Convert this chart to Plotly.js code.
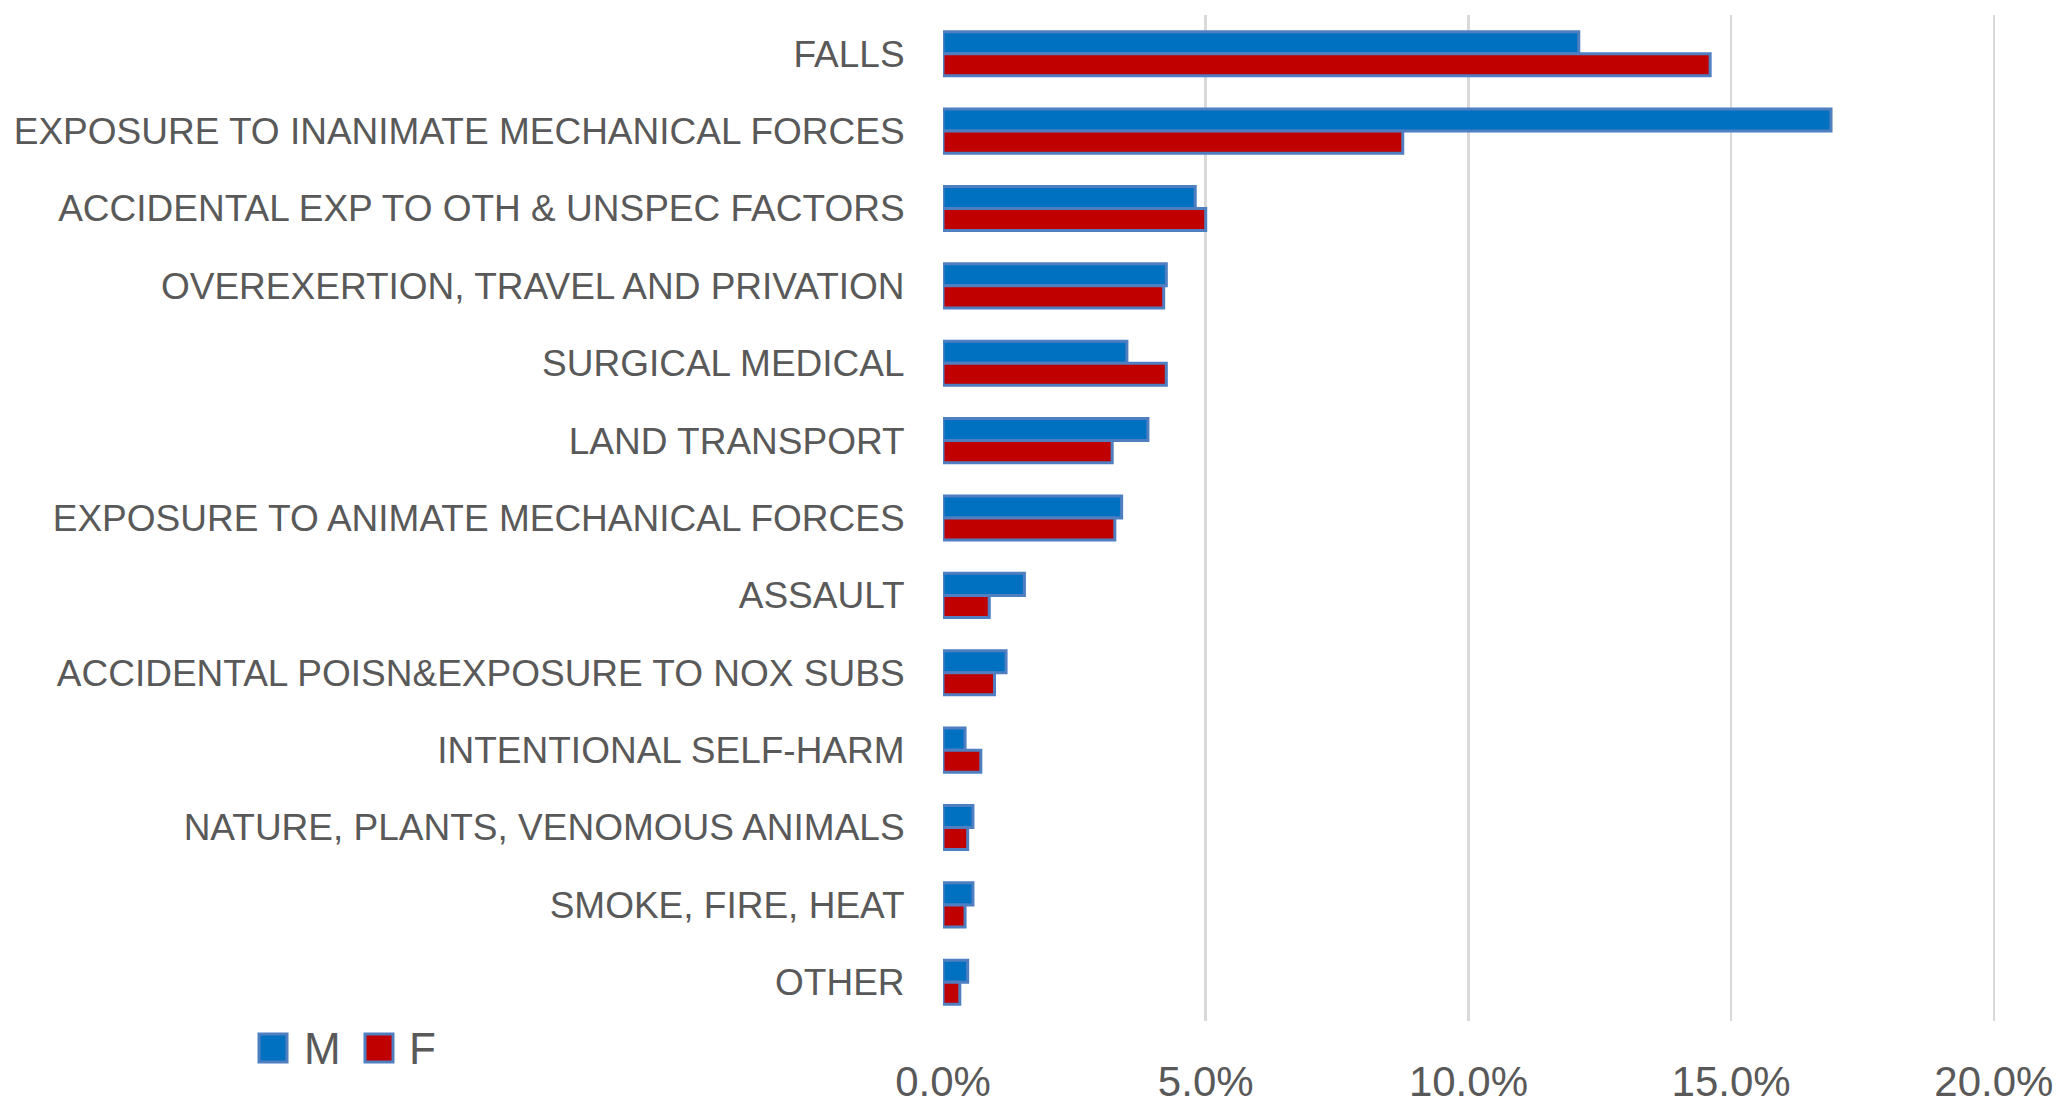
<!DOCTYPE html>
<html>
<head>
<meta charset="utf-8">
<script src="https://cdn.plot.ly/plotly-3.0.1.min.js"></script>
<style>html,body{margin:0;padding:0;background:#fff;}#chart{width:2061px;height:1106px;}</style>
</head>
<body>
<div id="chart"></div>
<script>
var categories = ["FALLS","EXPOSURE TO INANIMATE MECHANICAL FORCES","ACCIDENTAL EXP TO OTH & UNSPEC FACTORS","OVEREXERTION, TRAVEL AND PRIVATION","SURGICAL MEDICAL","LAND TRANSPORT","EXPOSURE TO ANIMATE MECHANICAL FORCES","ASSAULT","ACCIDENTAL POISN&EXPOSURE TO NOX SUBS","INTENTIONAL SELF-HARM","NATURE, PLANTS, VENOMOUS ANIMALS","SMOKE, FIRE, HEAT","OTHER"];
var maleValues = [0.121,0.169,0.048,0.0425,0.035,0.039,0.034,0.0155,0.012,0.0042,0.0057,0.0057,0.0047];
var femaleValues = [0.146,0.0875,0.050,0.042,0.0425,0.0322,0.0327,0.0088,0.0098,0.0072,0.0047,0.0042,0.0032];
var xTicks = [0,0.05,0.10,0.15,0.20];
var seriesNames = ["M","F"];
var seriesColors = ["#0070C0","#C00000"];

var FONT = "'Liberation Sans', Arial, sans-serif";
var TXT = "#595959";
var BORDER = "#4F7FC1";

var W = 2061, H = 1106;
var M = {l:943, r:65, t:15, b:85};
var PW = W - M.l - M.r, PH = H - M.t - M.b;
function px2x(p){ return (p - M.l) / PW; }
function px2y(p){ return (H - M.b - p) / PH; }

var traces = [
  {type:"bar", orientation:"h", name:seriesNames[0], y:categories, x:maleValues,
   marker:{color:seriesColors[0], line:{color:BORDER, width:3}}},
  {type:"bar", orientation:"h", name:seriesNames[1], y:categories, x:femaleValues,
   marker:{color:seriesColors[1], line:{color:BORDER, width:3}}}
];

// custom legend (large square swatches like the reference)
var shapes = [], annotations = [];
var legendSwatchX = [259, 365], legendTextX = [302, 407], legendY = 1048, sw = 28;
for (var i = 0; i < seriesNames.length; i++) {
  shapes.push({type:"rect", xref:"paper", yref:"paper",
    x0:px2x(legendSwatchX[i]), x1:px2x(legendSwatchX[i] + sw),
    y0:px2y(legendY + sw/2), y1:px2y(legendY - sw/2),
    fillcolor:seriesColors[i], line:{color:BORDER, width:3}});
  annotations.push({xref:"paper", yref:"paper", x:px2x(legendTextX[i]), y:px2y(legendY),
    xanchor:"left", yanchor:"middle", text:seriesNames[i], showarrow:false,
    font:{family:FONT, size:44, color:TXT}});
}

var layout = {
  width:W, height:H,
  margin:{l:M.l, r:M.r, t:M.t, b:M.b, pad:0},
  paper_bgcolor:"#fff", plot_bgcolor:"#fff",
  barmode:"group", bargap:0.43, bargroupgap:0,
  font:{family:FONT, color:TXT, size:37},
  showlegend:false,
  shapes:shapes, annotations:annotations,
  xaxis:{range:[0,0.2004], tickvals:xTicks, tickformat:".1%", showgrid:true, gridcolor:"#D9D9D9", gridwidth:2.5,
    zeroline:false, showline:false, ticks:"outside", ticklen:24, tickcolor:"rgba(0,0,0,0)",
    tickfont:{family:FONT, size:42, color:TXT}, fixedrange:true},
  yaxis:{type:"category", autorange:"reversed", showgrid:false, zeroline:false, showline:false,
    ticks:"outside", ticklen:30, tickcolor:"rgba(0,0,0,0)",
    tickfont:{family:FONT, size:37, color:TXT}, fixedrange:true}
};

Plotly.newPlot("chart", traces, layout, {displayModeBar:false, staticPlot:true});
</script>
</body>
</html>
